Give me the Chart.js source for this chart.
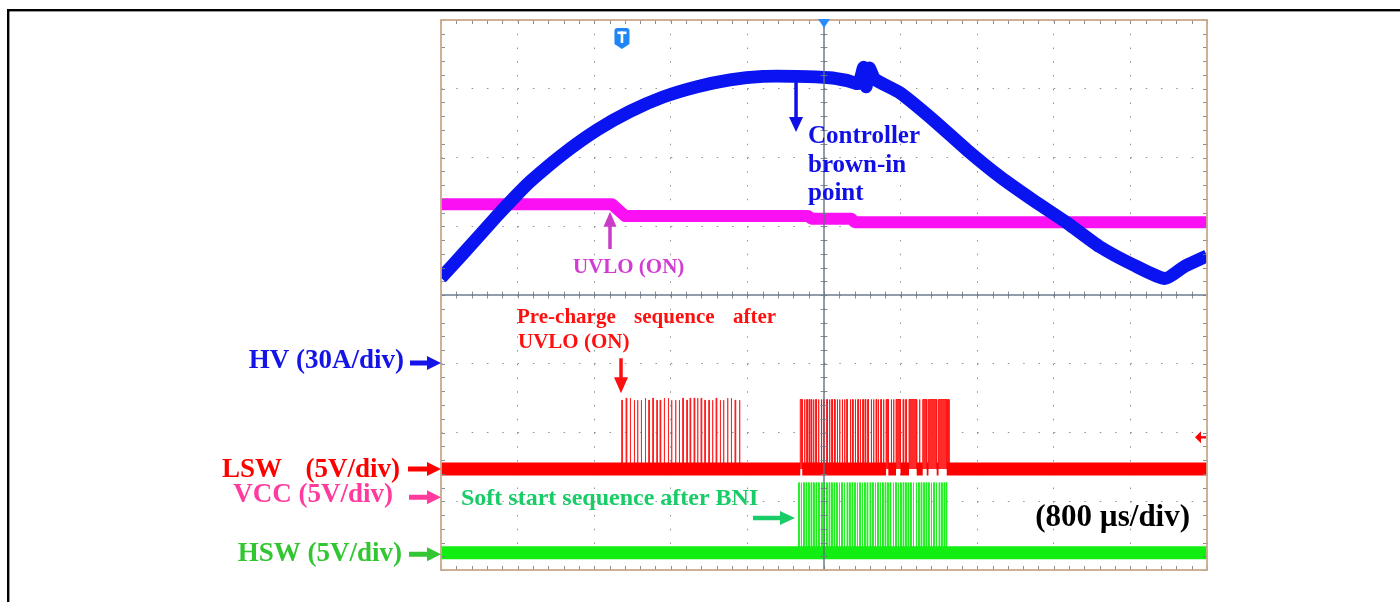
<!DOCTYPE html>
<html>
<head>
<meta charset="utf-8">
<script src="https://cdn.jsdelivr.net/npm/chart.js@4/dist/chart.umd.min.js"></script>
<style>
  html, body { margin: 0; padding: 0; background: #ffffff; }
  canvas { display: block; }
</style>
</head>
<body>
<canvas id="scope" width="1400" height="602"></canvas>
<script>
// Time axis in microseconds (800 µs per division, 10 divisions),
// vertical axis in screen divisions (8 divisions).
const timeMin = -4000, timeMax = 4000, timePerDiv = 800;
const divMin = 0, divMax = 8;

// HV current envelope
const hvTime  = [-4000, -3770, -3415, -3206, -3070, -2726, -2371, -2026, -1681, -1326, -982, -637, -282, 60, 240, 360, 415, 440, 472, 530, 794, 1138, 1493, 1838, 2183, 2538, 2883, 3227, 3561, 3770, 4000];
const hvLevel = [4.25, 4.60, 5.15, 5.46, 5.65, 6.05, 6.40, 6.67, 6.88, 7.03, 7.13, 7.18, 7.18, 7.16, 7.12, 7.08, 7.31, 7.03, 7.30, 7.14, 6.94, 6.55, 6.11, 5.72, 5.38, 5.05, 4.70, 4.44, 4.24, 4.42, 4.57];

// VCC supply
const vccTime  = [-4000, -2214, -2078, -170, -130, 285, 320, 4000];
const vccLevel = [5.32, 5.32, 5.15, 5.15, 5.11, 5.11, 5.06, 5.06];

// LSW gate drive: low / high levels
const lswLow = 1.47;
const lswHigh = 2.48;
// pre-charge burst after UVLO (ON): pulse start times and tops
const lswPrecharge = [-2113, -2068, -2026, -1984, -1950, -1911, -1869, -1831, -1789, -1747, -1713, -1671, -1629, -1595, -1553, -1514, -1476, -1434, -1400, -1358, -1323, -1285, -1246, -1204, -1167, -1128, -1086, -1052, -1010, -971, -930, -885];
const lswPrechargeTop = [2.47, 2.50, 2.50, 2.47, 2.47, 2.47, 2.50, 2.47, 2.50, 2.47, 2.47, 2.50, 2.50, 2.47, 2.47, 2.47, 2.50, 2.47, 2.50, 2.50, 2.50, 2.50, 2.47, 2.47, 2.47, 2.50, 2.47, 2.47, 2.50, 2.50, 2.47, 2.47];
// switching after brown-in: [rise, fall] times
const lswSwitching = [[-248, -227], [-206, -199], [-181, -174], [-157, -150], [-136, -129], [-112, -105], [-87, -80], [-60, -53], [-31, -24], [-7, 0], [28, 35], [55, 62], [80, 87], [108, 115], [136, 143], [160, 167], [188, 195], [212, 219], [237, 244], [272, 279], [296, 303], [324, 331], [352, 359], [376, 383], [404, 411], [428, 435], [456, 463], [491, 498], [515, 522], [543, 550], [564, 571], [592, 599], [619, 626], [648, 672], [700, 707], [724, 731], [752, 799], [825, 832], [853, 860], [888, 968], [995, 1002], [1031, 1073], [1091, 1177], [1196, 1282], [1290, 1306]];

// HSW gate drive
const hswLow = 0.25;
const hswHigh = 1.27;
const hswSoftStart = [-266, -240, -214, -188, -162, -136, -110, -84, -57, -26, 0, 26, 52, 78, 104, 131, 157, 183, 209, 240, 266, 292, 319, 345, 371, 397, 423, 449, 480, 507, 533, 559, 585, 611, 637, 663, 689, 721, 747, 773, 799, 825, 851, 877, 903, 930, 961, 987, 1013, 1039, 1065, 1091, 1118, 1144, 1170, 1201, 1227, 1253, 1274];
const pulseWidth = 7;

// ---- build library point lists ----
const zip = (xs, ys) => xs.map((x, i) => ({ x: x, y: ys[i] }));

function pulseTrain(pairs, low, tops) {
  const pts = [];
  pairs.forEach(([s, e], i) => {
    const top = Array.isArray(tops) ? tops[i] : tops;
    pts.push({ x: s, y: low }, { x: s, y: top }, { x: e, y: top }, { x: e, y: low });
  });
  return pts;
}

// low-level band, interrupted where the switch stays high for long stretches
function lowBand(low, pairs, minHigh) {
  const pts = [{ x: timeMin, y: low }];
  pairs.filter(([s, e]) => e - s > minHigh).forEach(([s, e]) => {
    pts.push({ x: s, y: low }, { x: (s + e) / 2, y: null }, { x: e, y: low });
  });
  pts.push({ x: timeMax, y: low });
  return pts;
}

const prechargePairs = lswPrecharge.map(s => [s, s + pulseWidth]);
const hswPairs = hswSoftStart.map(s => [s, s + pulseWidth]);

const RED = '#ff0000', GREEN = '#12ee12', BLUE = '#0a14f0', MAGENTA = '#fa10f2';

const traceBase = { pointRadius: 0, pointHoverRadius: 0, tension: 0, borderJoinStyle: 'round', spanGaps: false };

const datasets = [
  Object.assign({}, traceBase, { label: 'LSW pre-charge', data: pulseTrain(prechargePairs, lswLow, lswPrechargeTop),
    borderColor: 'rgba(255,30,30,0.85)', backgroundColor: 'rgba(255,30,30,0.85)', borderWidth: 1, fill: { value: lswLow }, order: 6 }),
  Object.assign({}, traceBase, { label: 'LSW switching', data: pulseTrain(lswSwitching, lswLow, lswHigh),
    borderColor: 'rgba(255,20,20,0.9)', backgroundColor: 'rgba(255,20,20,0.9)', borderWidth: 1, fill: { value: lswLow }, order: 6 }),
  Object.assign({}, traceBase, { label: 'HSW soft start', data: pulseTrain(hswPairs, hswLow, hswHigh),
    borderColor: 'rgba(30,240,30,0.85)', backgroundColor: 'rgba(30,240,30,0.85)', borderWidth: 1, fill: { value: hswLow }, order: 6 }),
  Object.assign({}, traceBase, { label: 'LSW', data: lowBand(lswLow, lswSwitching, 20),
    borderColor: RED, borderWidth: 13, borderJoinStyle: 'miter', fill: false, order: 5 }),
  Object.assign({}, traceBase, { label: 'HSW', data: lowBand(hswLow, [], 20),
    borderColor: GREEN, borderWidth: 13, fill: false, order: 5 }),
  Object.assign({}, traceBase, { label: 'VCC', data: zip(vccTime, vccLevel),
    borderColor: MAGENTA, borderWidth: 12, fill: false, order: 4 }),
  Object.assign({}, traceBase, { label: 'HV', data: zip(hvTime, hvLevel),
    borderColor: BLUE, borderWidth: 13, tension: 0.2, fill: false, order: 3 })
];

// ---- drawing helpers ----
function arrow(ctx, x1, y1, x2, y2, shaft, headLen, headHalf, color) {
  const dx = x2 - x1, dy = y2 - y1, len = Math.hypot(dx, dy);
  const ux = dx / len, uy = dy / len, nx = -uy, ny = ux;
  const bx = x2 - ux * headLen, by = y2 - uy * headLen;
  ctx.save();
  ctx.fillStyle = color;
  ctx.beginPath();
  ctx.moveTo(x1 + nx * shaft / 2, y1 + ny * shaft / 2);
  ctx.lineTo(bx + nx * shaft / 2, by + ny * shaft / 2);
  ctx.lineTo(bx + nx * headHalf, by + ny * headHalf);
  ctx.lineTo(x2, y2);
  ctx.lineTo(bx - nx * headHalf, by - ny * headHalf);
  ctx.lineTo(bx - nx * shaft / 2, by - ny * shaft / 2);
  ctx.lineTo(x1 - nx * shaft / 2, y1 - ny * shaft / 2);
  ctx.closePath();
  ctx.fill();
  ctx.restore();
}

function text(ctx, str, x, y, size, color, align) {
  ctx.save();
  ctx.font = 'bold ' + size + 'px "Liberation Serif", "Times New Roman", serif';
  ctx.fillStyle = color;
  ctx.textAlign = align || 'left';
  ctx.textBaseline = 'alphabetic';
  ctx.fillText(str, x, y);
  ctx.restore();
}

const scopeOverlay = {
  id: 'scopeOverlay',
  beforeDraw(chart) {
    const ctx = chart.ctx;
    ctx.save();
    ctx.strokeStyle = '#000000';
    ctx.lineWidth = 2.4;
    ctx.strokeRect(8.2, 10.2, chart.width + 40, chart.height + 40);
    ctx.restore();
  },
  afterDatasetsDraw(chart) {
    const ctx = chart.ctx;
    const xs = chart.scales.x, ys = chart.scales.y, a = chart.chartArea;
    const px = v => xs.getPixelForValue(v), py = v => ys.getPixelForValue(v);
    const xMid = px(0), yMid = py(4);

    ctx.save();
    // centre cross with fine tick marks every 1/5 division
    ctx.strokeStyle = 'rgba(95,110,130,0.9)';
    ctx.lineWidth = 1.5;
    ctx.beginPath();
    ctx.moveTo(xMid, a.top); ctx.lineTo(xMid, a.bottom);
    ctx.moveTo(a.left, yMid); ctx.lineTo(a.right, yMid);
    ctx.stroke();

    ctx.lineWidth = 1;
    ctx.strokeStyle = 'rgba(110,122,140,0.85)';
    ctx.beginPath();
    for (let i = 0; i <= 50; i++) {
      const x = Math.round(px(timeMin + i * timePerDiv / 5)) + 0.5;
      ctx.moveTo(x, yMid - 3.5); ctx.lineTo(x, yMid + 3.5);
      ctx.moveTo(x, a.top); ctx.lineTo(x, a.top + 4);
      ctx.moveTo(x, a.bottom - 4); ctx.lineTo(x, a.bottom);
    }
    for (let i = 0; i <= 40; i++) {
      const y = Math.round(py(divMin + i * 0.2)) + 0.5;
      ctx.moveTo(xMid - 3.5, y); ctx.lineTo(xMid + 3.5, y);
      ctx.moveTo(a.left, y); ctx.lineTo(a.left + 4, y);
      ctx.moveTo(a.right - 4, y); ctx.lineTo(a.right, y);
    }
    ctx.stroke();

    // screen frame
    ctx.strokeStyle = '#c9a98b';
    ctx.lineWidth = 1.8;
    ctx.strokeRect(a.left, a.top, a.right - a.left, a.bottom - a.top);

    // horizontal trigger position marker
    ctx.fillStyle = '#2a8cff';
    ctx.beginPath();
    ctx.moveTo(xMid - 6, a.top - 1); ctx.lineTo(xMid + 6, a.top - 1); ctx.lineTo(xMid, a.top + 8);
    ctx.closePath(); ctx.fill();

    // trigger point badge
    const tx = px(-2110), ty = a.top + 8;
    ctx.fillStyle = '#1f86f5';
    ctx.beginPath();
    ctx.moveTo(tx - 7.5, ty + 3);
    ctx.quadraticCurveTo(tx - 7.5, ty, tx - 4.5, ty);
    ctx.lineTo(tx + 4.5, ty);
    ctx.quadraticCurveTo(tx + 7.5, ty, tx + 7.5, ty + 3);
    ctx.lineTo(tx + 7.5, ty + 16);
    ctx.lineTo(tx, ty + 21);
    ctx.lineTo(tx - 7.5, ty + 16);
    ctx.closePath(); ctx.fill();
    ctx.fillStyle = '#ffffff';
    ctx.fillRect(tx - 4.5, ty + 3.5, 9, 2.6);
    ctx.fillRect(tx - 1.3, ty + 3.5, 2.6, 11.5);

    // trigger level marker on the right edge
    const ly = py(1.93);
    ctx.fillStyle = RED;
    ctx.beginPath();
    ctx.moveTo(a.right - 12, ly); ctx.lineTo(a.right - 6, ly - 6); ctx.lineTo(a.right - 6, ly + 6);
    ctx.closePath(); ctx.fill();
    ctx.fillRect(a.right - 7, ly - 1.2, 6, 2.4);
    ctx.restore();

    // annotations inside the screen
    text(ctx, 'Controller', px(-167), py(6.21), 25, '#1010e6');
    text(ctx, 'brown-in', px(-167), py(5.79), 25, '#1010e6');
    text(ctx, 'point', px(-167), py(5.38), 25, '#1010e6');
    arrow(ctx, px(-292), py(7.10), px(-292), py(6.37), 3.5, 15, 7, '#1010e6');

    text(ctx, 'UVLO (ON)', px(-2622), py(4.32), 21, '#d23cd2');
    arrow(ctx, px(-2235), py(4.67), px(-2235), py(5.21), 3.5, 15, 6.5, '#c83cc8');

    text(ctx, 'Pre-charge', px(-3206), py(3.59), 21, '#ff1010');
    text(ctx, 'sequence', px(-1984), py(3.59), 21, '#ff1010');
    text(ctx, 'after', px(-501), py(3.59), 21, '#ff1010', 'right');
    text(ctx, 'UVLO (ON)', px(-3196), py(3.23), 21, '#ff1010');
    arrow(ctx, px(-2120), py(3.08), px(-2120), py(2.57), 3.5, 16, 7, '#ff1010');

    text(ctx, 'Soft start sequence after BNI', px(-3791), py(0.945), 24, '#18cc68');
    arrow(ctx, px(-742), py(0.756), px(-303), py(0.756), 4.5, 15, 7, '#18cc68');

    text(ctx, '(800 \u00b5s/div)', px(3823), py(0.64), 31, '#000000', 'right');

    // channel labels to the left of the screen
    const L = a.left;
    text(ctx, 'HV (30A/div)', L - 37, py(2.94), 27, '#1414e8', 'right');
    arrow(ctx, L - 31, py(3.01), L, py(3.01), 5, 14, 7, '#1414e8');

    text(ctx, 'LSW', L - 219, py(1.35), 27, '#ff0000');
    text(ctx, '(5V/div)', L - 41, py(1.35), 27, '#ff0000', 'right');
    arrow(ctx, L - 33, py(1.47), L, py(1.47), 5, 14, 7, '#ff0000');

    text(ctx, 'VCC (5V/div)', L - 48, py(0.99), 27, '#ff3c9e', 'right');
    arrow(ctx, L - 32, py(1.06), L, py(1.06), 5, 14, 7, '#ff3c9e');

    text(ctx, 'HSW (5V/div)', L - 39, py(0.13), 27, '#33c633', 'right');
    arrow(ctx, L - 32, py(0.23), L, py(0.23), 5, 14, 7, '#33c633');
  }
};

new Chart(document.getElementById('scope'), {
  type: 'line',
  data: { datasets: datasets },
  options: {
    responsive: false,
    animation: false,
    devicePixelRatio: 1,
    events: [],
    parsing: true,
    normalized: true,
    layout: { padding: { left: 441, right: 193, top: 20, bottom: 32 } },
    plugins: { legend: { display: false }, tooltip: { enabled: false } },
    scales: {
      x: {
        type: 'linear', min: timeMin, max: timeMax,
        ticks: { display: false, stepSize: timePerDiv },
        grid: { color: 'rgba(120,128,140,0.85)', lineWidth: 1, drawTicks: false },
        border: { display: false, dash: [1.5, 12.25] }
      },
      y: {
        type: 'linear', min: divMin, max: divMax,
        ticks: { display: false, stepSize: 1 },
        grid: { color: 'rgba(120,128,140,0.85)', lineWidth: 1, drawTicks: false },
        border: { display: false, dash: [1.5, 13.82] }
      }
    }
  },
  plugins: [scopeOverlay]
});
</script>
</body>
</html>
